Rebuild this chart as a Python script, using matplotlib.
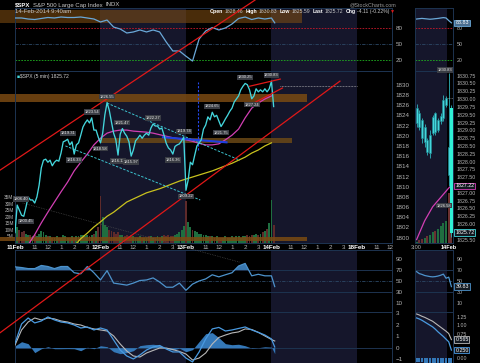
import numpy as np
import matplotlib
matplotlib.use("Agg")
import matplotlib.pyplot as plt
from matplotlib import transforms
from matplotlib.patches import Rectangle

plt.rcParams['font.family'] = ['Liberation Sans', 'DejaVu Sans']

# ---------------- data ----------------
# $SPX 5 min, one value every 2 bars (bar 0 = 11Feb 9:30, 78 bars per day)
price = [
    # 11Feb
    1801.0, 1806.4, 1805.4, 1804.4, 1804.2, 1806.0, 1808.0, 1807.4, 1807.4, 1806.8,
    1808.0, 1810.3, 1813.7, 1815.2, 1815.4, 1814.8, 1815.2, 1814.1, 1814.8, 1815.2,
    1815.0, 1816.6, 1818.8, 1819.0, 1819.3, 1818.2, 1818.8, 1816.4, 1818.2, 1818.6,
    1820.1, 1821.7, 1822.5, 1823.1, 1822.5, 1823.5, 1821.1, 1821.1, 1819.7,
    # 12Feb
    1818.6, 1820.5, 1824.1, 1826.5, 1825.0, 1822.7, 1820.5, 1819.2, 1816.2, 1820.3,
    1821.4, 1820.5, 1819.9, 1818.8, 1816.0, 1817.2, 1819.0, 1819.5, 1820.1, 1819.5,
    1820.1, 1820.5, 1820.1, 1821.5, 1822.3, 1821.9, 1821.9, 1821.3, 1821.5, 1820.1,
    1818.5, 1817.6, 1817.2, 1816.4, 1817.9, 1818.2, 1818.4, 1819.0, 1819.7,
    # 13Feb
    1809.3, 1811.3, 1814.8, 1814.3, 1816.2, 1818.0, 1818.6, 1819.2, 1821.3, 1822.1,
    1823.7, 1823.1, 1824.6, 1823.7, 1824.0, 1822.9, 1821.8, 1822.5, 1823.3, 1824.0,
    1824.8, 1825.4, 1826.6, 1827.2, 1827.8, 1829.0, 1829.7, 1830.25, 1830.0, 1829.0,
    1827.24, 1827.8, 1829.2, 1828.6, 1829.0, 1828.6, 1829.2, 1828.6, 1829.2,
    # 14Feb
    1830.7, 1825.72,
]
# volume in millions, same sampling
vol = [
    18, 12, 10, 8, 9, 7, 6, 6, 5, 6, 5, 7, 9, 8, 6, 5, 5, 4, 4, 5,
    4, 4, 6, 5, 4, 4, 5, 4, 5, 5, 6, 6, 5, 6, 5, 6, 7, 9, 12,
    36, 20, 14, 12, 10, 9, 8, 7, 8, 6, 6, 5, 6, 5, 6, 5, 4, 4, 5, 4,
    4, 4, 5, 5, 4, 4, 5, 4, 5, 6, 5, 6, 5, 5, 6, 7, 8, 10, 13,
    32, 16, 12, 10, 9, 8, 7, 7, 6, 6, 5, 5, 5, 4, 5, 4, 4, 4, 5, 4,
    4, 5, 4, 5, 5, 4, 5, 5, 6, 5, 6, 6, 7, 6, 7, 8, 9, 11, 15,
    33, 14,
]

# moving averages, one value every 6 bars
ma_bar = np.arange(0, 235, 6)
ma_fast = [1795.2, 1796.6, 1798.6, 1800.6, 1802.9, 1805.0, 1807.0, 1809.0, 1810.9, 1813.1,
           1814.8, 1816.4, 1818.2, 1819.5, 1820.5, 1820.9, 1821.1, 1821.1, 1820.9, 1820.8,
           1820.7, 1820.5, 1820.2, 1819.9, 1819.6, 1819.4, 1819.2, 1818.9, 1818.5, 1818.2,
           1818.2, 1818.4, 1819.2, 1820.1, 1821.3, 1823.5, 1825.4, 1826.4, 1827.2, 1827.8]
slow_bar = np.arange(54, 235, 6)
ma_slow = [1798.4, 1799.8, 1800.9, 1802.1, 1803.1, 1804.2, 1805.0, 1806.0, 1807.0, 1807.6,
           1808.2, 1808.8, 1809.2, 1809.6, 1810.1, 1810.6, 1811.1, 1811.5, 1811.9, 1812.3,
           1812.7, 1813.1, 1813.6, 1814.1, 1814.6, 1815.2, 1815.8, 1816.6, 1817.2, 1818.0,
           1818.6]

# indicators, one value every 6 bars plus the last bar
ind_bar = list(range(0, 235, 6)) + [237]
ind_top = [97.8, 97.8, 95.9, 95.0, 96.9, 98.7, 97.8, 99.6, 98.7, 98.7,
           99.6, 97.8, 95.9, 90.4, 94.0, 81.0, 77.4, 70.0, 71.9, 75.6,
           71.9, 75.6, 71.9, 53.3, 36.7, 36.7, 27.0, 18.0, 58.9, 73.7,
           80.2, 75.6, 79.3, 86.7, 96.9, 99.6, 95.0, 97.8, 95.9, 97.8, 88.8]
rsi = [75.7, 74.4, 72.5, 72.5, 78.2, 76.3, 72.5, 76.3, 76.3, 65.0,
       63.1, 76.3, 65.0, 51.9, 68.8, 46.2, 44.4, 42.5, 46.2, 50.9,
       51.9, 55.6, 48.1, 38.7, 38.7, 46.2, 33.1, 44.4, 50.0, 53.8,
       61.3, 57.5, 61.3, 65.0, 77.2, 81.9, 59.4, 62.2, 59.4, 59.4, 39.83]
macd = [0.38, 2.06, 2.58, 2.15, 2.32, 2.67, 2.41, 2.23, 2.15, 1.97,
        1.71, 1.80, 1.54, 1.71, 1.54, 0.67, -0.20, -0.72, -0.98, -0.63,
        -0.20, 0.06, 0.19, -0.11, -0.37, -0.37, -0.90, -1.24, -0.37, 0.76,
        1.63, 1.76, 1.45, 1.54, 1.67, 1.80, 1.54, 1.33, 1.10, 0.76, 0.06]
macd_sig = [0.23, 1.54, 2.23, 2.58, 2.41, 2.58, 2.50, 2.32, 2.23, 2.06,
            1.97, 1.76, 1.63, 1.54, 1.45, 1.02, 0.32, -0.29, -0.72, -0.81,
            -0.46, -0.24, -0.03, -0.03, -0.16, -0.33, -0.55, -1.07, -0.90, -0.46,
            0.32, 0.89, 1.10, 1.28, 1.37, 1.63, 1.58, 1.33, 1.02, 0.71, 0.58]

# price labels: sample index, printed value, above(+1)/below(-1)
lbl_idx = [3, 1, 24, 27, 35, 39, 42, 47, 49, 53, 63, 72, 77, 78, 90, 94, 105, 108, 117]
lbl_txt = ["1800.45", "1806.40", "1819.31", "1816.33", "1823.54", "1818.58", "1826.55",
           "1816.13", "1821.47", "1815.97", "1822.27", "1816.36", "1819.74", "1809.22",
           "1824.65", "1821.75", "1830.25", "1827.24", "1830.83"]
lbl_side = [-1, 1, 1, -1, 1, -1, 1, -1, 1, -1, 1, -1, 1, -1, 1, -1, 1, -1, 1]

# right zoom panel: 13Feb 3:00pm .. 14Feb 9:35
r_bar = np.arange(222, 236)
r_open = [1829.23, 1829.55, 1829.33, 1828.62, 1828.69, 1828.27, 1828.91, 1829.55, 1829.01,
          1829.30, 1829.39, 1829.81, 1828.46, 1829.71]
r_high = [1829.84, 1829.65, 1829.40, 1829.20, 1828.75, 1829.00, 1829.50, 1829.60, 1829.40,
          1829.55, 1830.12, 1830.10, 1830.83, 1829.80]
r_low = [1829.10, 1829.00, 1828.59, 1828.45, 1828.20, 1828.10, 1828.85, 1828.85, 1828.95,
         1829.20, 1829.30, 1829.75, 1827.20, 1825.59]
r_close = [1829.71, 1829.10, 1828.75, 1829.10, 1828.30, 1828.85, 1829.42, 1828.94, 1829.33,
           1829.45, 1829.97, 1830.03, 1827.56, 1825.72]
r_vol = [1, 2, 3, 4, 5, 6, 8, 9, 11, 13, 15, 17, 38, 20]
r_ma_bar = [222, 225, 228, 231, 234, 235]
r_ma = [1825.5, 1826.1, 1826.55, 1826.85, 1827.15, 1827.22]
r_ind = [95.9, 96.5, 97.0, 96.5, 96.0, 95.5, 95.9, 96.5, 97.0, 97.8, 98.5, 97.8, 93.0, 88.83]
r_rsi = [67, 63.5, 62, 60, 59, 58, 57.5, 58, 59, 60.5, 62.5, 55, 57, 39.83]
r_macd = [1.22, 1.19, 1.15, 1.10, 1.05, 1.00, 0.95, 0.88, 0.80, 0.73, 0.66, 0.58, 0.50, 0.25]
r_sig = [1.34, 1.31, 1.27, 1.24, 1.20, 1.16, 1.12, 1.06, 1.00, 0.94, 0.88, 0.82, 0.75, 0.565]

# drawn annotations (bar, price)
band_hi = (1826.6, 1828.2, -14, 266)
band_mid = (1818.6, 1819.5, 78, 253)
band_lo = (1799.3, 1800.1, -14, 266)
top_band = (88.5, 112.6, -14, 262)
red_up = ([-14, 219], [1813.2, 1846.6])
red_lo = ([-14, 296.5], [1781.3, 1830.7])
wedge_hi = ([214, 242], [1829.7, 1831.1])
wedge_lo = ([216, 244], [1826.2, 1829.35])
cyan_hi = ([84, 205], [1826.4, 1815.2])
cyan_lo = ([46, 169], [1818.0, 1807.4])
gray_dot = ([7, 205], [1806.8, 1795.2])
prev_close = ([242, 312], [1829.7, 1829.7])
blue_line = ([135, 193], [1819.7, 1818.7])
blue_vert = (167, 1817.2, 1830.5)

# ---------------- layout ----------------
W, H = 480, 363
fig = plt.figure(figsize=(W / 100, H / 100), dpi=100, facecolor="black")

EDGE = "#1d3350"
TXT = "#b4b4b4"
SHADE = "#15162b"
CYAN = "#44d6dc"
MAG = "#d23fb4"
YEL = "#c9c21e"
RED = "#e01818"
ORANGE = "#7a4a12"
BLUE = "#4d93cc"


def panel(x0, y0, x1, y1):
    return fig.add_axes([x0 / W, 1 - y1 / H, (x1 - x0) / W, (y1 - y0) / H])


def style(ax, size=4.5):
    ax.set_facecolor("black")
    for s in ax.spines.values():
        s.set_color(EDGE)
        s.set_linewidth(0.7)
    ax.tick_params(colors=TXT, labelsize=size, length=0, pad=2.5)
    ax.yaxis.tick_right()
    ax.tick_params(axis="x", labelbottom=False)


ax_top = panel(15, 8, 392, 71)
ax_vol = panel(15, 71, 392, 243)
ax_main = panel(15, 71, 392, 243)
ax_rsi = panel(15, 250, 392, 312)
ax_macd = panel(15, 312, 392, 363)
rx_top = panel(415, 8, 453, 71)
rx_vol = panel(415, 71, 453, 243)
rx_main = panel(415, 71, 453, 243)
rx_rsi = panel(415, 250, 453, 312)
rx_macd = panel(415, 312, 453, 363)

left = [ax_top, ax_vol, ax_main, ax_rsi, ax_macd]
right = [rx_top, rx_vol, rx_main, rx_rsi, rx_macd]
for ax in left:
    style(ax)
    ax.set_xlim(0, 344)
for ax in right:
    style(ax, 3.8)
    ax.set_xlim(221.4, 235.6)
for ax in [ax_top, ax_vol, ax_rsi, ax_macd]:
    ax.axvspan(78, 156, color=SHADE, lw=0, zorder=0)
    ax.axvspan(234, 312, color=SHADE, lw=0, zorder=0)
for ax in [rx_top, rx_vol, rx_rsi, rx_macd]:
    ax.axvspan(221.4, 233.5, color=SHADE, lw=0, zorder=0)

ax_vol.set_zorder(4)
ax_main.set_zorder(5)
ax_main.patch.set_visible(False)
rx_vol.set_zorder(4)
rx_main.set_zorder(5)
rx_main.patch.set_visible(False)

bars = np.arange(len(price)) * 2
price = np.array(price)

# ---- volume ----
up = np.r_[True, price[1:] >= price[:-1]]
ax_vol.bar(bars, vol, width=1.7, color=np.where(up, "#1f6e40", "#5e2a2a"), lw=0, zorder=2)
ax_vol.set_ylim(0, 131)
ax_vol.yaxis.tick_left()
ax_vol.set_yticks([5, 10, 15, 20, 25, 30, 35])
ax_vol.set_yticklabels([f"{v}M" for v in [5, 10, 15, 20, 25, 30, 35]])
ax_vol.tick_params(axis="y", labelsize=3.4, pad=1)
ax_vol.tick_params(axis="x", bottom=False, labelbottom=False)

# ---- main price panel ----
ax_main.set_ylim(1798.96, 1832.69)
ax_main.set_yticks(np.arange(1800, 1831, 2))
for lo, hi, x0, x1 in [band_hi, band_lo]:
    ax_main.add_patch(Rectangle((x0, lo), x1 - x0, hi - lo, color=ORANGE, alpha=0.85,
                                lw=0, clip_on=False, zorder=1))
lo, hi, x0, x1 = band_mid
ax_main.add_patch(Rectangle((x0, lo), x1 - x0, hi - lo, color="#6b4816", alpha=0.85,
                            lw=0, zorder=1))
ax_main.plot(ma_bar, ma_fast, color=MAG, lw=0.9, zorder=2)
ax_main.plot(slow_bar, ma_slow, color=YEL, lw=0.9, zorder=2)
ax_main.plot(*gray_dot, color="#555555", lw=0.5, ls=(0, (1, 1.5)), clip_on=False, zorder=2)
ax_main.plot(*cyan_hi, color="#3cc4d0", lw=0.7, ls=(0, (2.5, 1.5)), zorder=2)
ax_main.plot(*cyan_lo, color="#3cc4d0", lw=0.7, ls=(0, (2.5, 1.5)), zorder=2)
ax_main.plot(*blue_line, color="#1f3fe0", lw=1.5, zorder=3)
ax_main.vlines(blue_vert[0], blue_vert[1], blue_vert[2], color="#2448f0", lw=0.8,
               linestyles=(0, (2, 1.5)), zorder=3)
ax_main.plot(*prev_close, color="#c8c8c8", lw=0.5, ls=(0, (1, 1.2)), zorder=3)
ax_main.plot(bars, price, color=CYAN, lw=0.95, zorder=4)
ax_main.plot(*red_up, color=RED, lw=0.9, clip_on=False, zorder=6)
ax_main.plot(*red_lo, color=RED, lw=0.9, clip_on=False, zorder=6)
ax_main.plot(*wedge_hi, color=RED, lw=0.9, zorder=6)
ax_main.plot(*wedge_lo, color=RED, lw=0.9, zorder=6)

for i, t, s in zip(lbl_idx, lbl_txt, lbl_side):
    ax_main.annotate(t, (bars[i], price[i]), xytext=(3 if i < 5 else 0, 4.3 * s),
                     textcoords="offset points",
                     ha="center", va="center", fontsize=3.0, color="#e8e8e8", zorder=7,
                     annotation_clip=False,
                     bbox=dict(boxstyle="square,pad=0.15", fc="#3a3d44", ec="none"))

ax_main.text(0.004, 0.985, "\u25a0", transform=ax_main.transAxes, color=CYAN,
             fontsize=3.6, va="top", ha="left")
ax_main.text(0.013, 0.985, f"$SPX (5 min) {price[-1]:.2f}", transform=ax_main.transAxes,
             color="#d0d0d0", fontsize=3.6, va="top", ha="left")

# x axis labels
day_start = [0, 78, 156, 234, 312]
day_name = ["11Feb", "12Feb", "13Feb", "14Feb", "18Feb"]
hour_off = [18, 30, 42, 54, 66]
hour_name = ["11", "12", "1", "2", "3"]
xt, xl, bold = [], [], []
for d, n in zip(day_start, day_name):
    xt.append(d); xl.append(n); bold.append(True)
    for o, h in zip(hour_off, hour_name):
        if d + o < 344:
            xt.append(d + o); xl.append(h); bold.append(False)
ax_main.set_xticks(xt)
ax_main.set_xticklabels(xl)
ax_main.tick_params(axis="x", labelbottom=True, pad=1.5, labelsize=4.5)
for lab, b in zip(ax_main.get_xticklabels(), bold):
    if b:
        lab.set_fontweight("bold")
        lab.set_color("white")

# ---- top indicator ----
ax_top.set_ylim(-0.4, 116.3)
ax_top.set_yticks([20, 50, 80])
lo, hi, x0, x1 = top_band
ax_top.add_patch(Rectangle((x0, lo), x1 - x0, hi - lo, color=ORANGE, alpha=0.6, lw=0,
                           clip_on=False, zorder=1))
for ax in [ax_top, rx_top]:
    ax.axhline(80, color="#c8182a", lw=0.6, ls=(0, (2, 1.5)), zorder=1)
    ax.axhline(50, color="#2c4866", lw=0.6, ls=(0, (4, 1.5, 1, 1.5)), zorder=1)
    ax.axhline(20, color="#1fb01f", lw=0.6, ls=(0, (2, 1.5)), zorder=1)
ax_top.plot(ind_bar, ind_top, color="#6aa8d8", lw=0.9, zorder=3)

# ---- RSI ----
rsi = np.array(rsi)
for ax in [ax_rsi, rx_rsi]:
    ax.set_ylim(-6.3, 106.3)
    ax.set_yticks([10, 30, 50, 70, 90])
    ax.axhline(70, color=EDGE, lw=0.7)
    ax.axhline(30, color=EDGE, lw=0.7)
    ax.axhline(50, color="#2c4866", lw=0.6, ls=(0, (4, 1.5, 1, 1.5)))
ax_rsi.fill_between(ind_bar, 70, rsi, where=rsi > 70, interpolate=True, color="#3a78b0",
                    lw=0, zorder=2)
ax_rsi.plot(ind_bar, rsi, color=BLUE, lw=0.9, zorder=3)

# ---- MACD ----
macd = np.array(macd)
macd_sig = np.array(macd_sig)
ax_macd.set_ylim(-1.33, 3.10)
ax_macd.set_yticks([-1, 0, 1, 2, 3])
ax_macd.axhline(0, color=EDGE, lw=0.7)
ax_macd.fill_between(ind_bar, 0, macd - macd_sig, color="#3478b8", lw=0, zorder=2)
ax_macd.plot(ind_bar, macd_sig, color="#b8b8b8", lw=0.8, zorder=3)
ax_macd.plot(ind_bar, macd, color="#4a9ae0", lw=0.9, zorder=4)

# ---------------- right zoom panel ----------------
r_up = np.array(r_close) >= np.array(r_open)
rx_vol.bar(r_bar, r_vol, width=0.7, color=np.where(r_up, "#1f6e40", "#6b3030"), lw=0, zorder=2)
rx_vol.set_ylim(0, 131)
rx_vol.set_yticks([])
rx_vol.tick_params(axis="x", labelbottom=False)

rx_main.set_ylim(1825.39, 1830.90)
rt = [v for v in np.arange(1825.5, 1830.76, 0.25)
      if abs(v - 1827.25) > 0.01 and abs(v - 1825.75) > 0.01]
rx_main.set_yticks(rt)
rx_main.set_yticklabels([f"{v:.2f}" for v in rt])
rx_main.vlines(r_bar, r_low, r_high, color="#2fb4bc", lw=0.6, zorder=3)
body_lo = np.minimum(r_open, r_close)
body_h = np.abs(np.array(r_close) - np.array(r_open))
rx_main.bar(r_bar[:-1], body_h[:-1], bottom=body_lo[:-1], width=0.7, color=CYAN,
            edgecolor="#1e8c94", lw=0.4, zorder=4)
rx_main.bar(r_bar[-1:], body_h[-1:], bottom=body_lo[-1:], width=1.1, color="#30f0d4",
            lw=0, zorder=4)
rx_main.plot(r_ma_bar, r_ma, color=MAG, lw=0.9, zorder=3)
rx_main.hlines(r_close[-3], 233, 235.6, color="#aaaaaa", lw=0.5, linestyles=(0, (1, 1)), zorder=3)
rx_main.set_xticks([222, 234])
rx_main.set_xticklabels(["3:00", "14Feb"])
rx_main.tick_params(axis="x", labelbottom=True, pad=1.5, labelsize=4.0)
rx_main.get_xticklabels()[1].set_fontweight("bold")
rx_main.get_xticklabels()[1].set_color("white")


def inner_box(ax, x, y, txt):
    ax.text(x, y, txt, ha="center", va="center", fontsize=3.0, color="#e8e8e8", zorder=7,
            bbox=dict(boxstyle="square,pad=0.15", fc="#3a3d44", ec="none"))


inner_box(rx_main, 232.6, max(r_high) + 0.1, f"{max(r_high):.2f}")
inner_box(rx_main, 232.3, 1826.58, "1826.58")


def axis_box(ax, y, txt, ec, fc="#141a22"):
    tr = transforms.blended_transform_factory(ax.transAxes, ax.transData)
    ax.text(1.06, y, txt, transform=tr, ha="left", va="center", fontsize=3.8, color="white",
            zorder=8, clip_on=False,
            bbox=dict(boxstyle="square,pad=0.15", fc=fc, ec=ec, lw=0.6))


axis_box(rx_main, r_ma[-1], f"{r_ma[-1]:.2f}", MAG)
axis_box(rx_main, r_close[-1], f"{r_close[-1]:.2f}", CYAN)

rx_top.set_ylim(-0.4, 116.3)
rx_top.set_yticks([20, 50, 80])
rx_top.plot(r_bar, r_ind, color="#6aa8d8", lw=0.9, zorder=3)
axis_box(rx_top, r_ind[-1], f"{r_ind[-1]:.2f}", "#6aa8d8", "#4a6e90")

rx_rsi.plot(r_bar, r_rsi, color=BLUE, lw=0.9, zorder=3)
axis_box(rx_rsi, r_rsi[-1], f"{r_rsi[-1]:.2f}", BLUE)

rx_macd.set_ylim(-0.14, 1.40)
mt = [0.0, 0.75, 1.0, 1.25]
rx_macd.set_yticks(mt)
rx_macd.set_yticklabels([f"{v:.2f}" for v in mt])
rx_macd.bar(r_bar, np.array(r_macd) - np.array(r_sig), width=0.8, color="#3478b8", lw=0, zorder=2)
rx_macd.plot(r_bar, r_sig, color="#b8b8b8", lw=0.8, zorder=3)
rx_macd.plot(r_bar, r_macd, color="#4a9ae0", lw=0.9, zorder=4)
axis_box(rx_macd, r_sig[-1], f"{r_sig[-1]:.3f}", "#b8b8b8")
axis_box(rx_macd, r_macd[-1], f"{r_macd[-1]:.3f}", "#4a9ae0")

# ---------------- header ----------------
renderer = fig.canvas.get_renderer()


def chain(x_px, y_px, parts, size=4.2):
    # place text pieces one after another, measuring each
    x = x_px
    for s, gap, kw in parts:
        kw = dict(kw)
        kw.setdefault("color", "#c8c8c8")
        t = fig.text(x / W, 1 - y_px / H, s, va="center", ha="left", fontsize=size, **kw)
        x = t.get_window_extent(renderer).x1 + gap
    return x


B = {"color": "white", "fontweight": "bold"}
chain(15, 5, [("$SPX", 2.5, B), ("S&P 500 Large Cap Index", 2.5, {}), ("INDX", 0, {})], 4.3)
chain(15, 11.5, [("14-Feb-2014 9:40am", 0, {})], 4.3)
chain(350, 5, [("@StockCharts.com", 0, {"color": "#9a9a9a"})], 3.9)
chain(210, 11.5, [("Open", 1.3, B), ("1828.46", 2.5, {}), ("High", 1.3, B), ("1830.83", 2.5, {}),
                  ("Low", 1.3, B), ("1825.59", 2.5, {}), ("Last", 1.3, B), ("1825.72", 2.5, {}),
                  ("Chg", 1.3, B), ("-4.11 (-0.22%)", 1, {}),
                  ("\u25bc", 0, {"color": RED})], 3.7)

fig.savefig("out.png", dpi=100, facecolor="black")
